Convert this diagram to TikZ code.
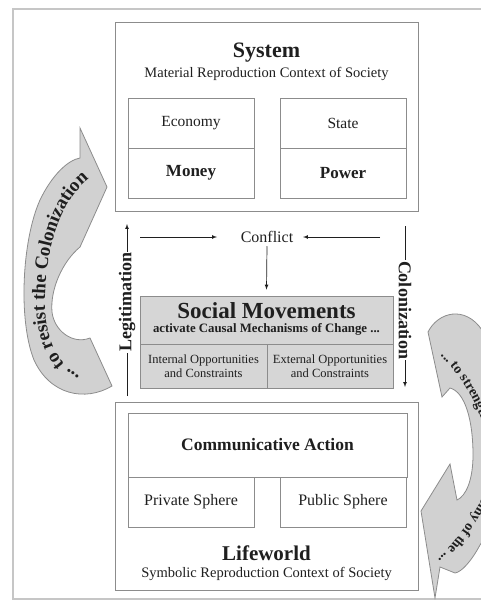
\documentclass[tikz,border=0pt]{standalone}
\usepackage{fontspec}
\setmainfont{Liberation Serif}
\usetikzlibrary{arrows, decorations.text}
\definecolor{boxline}{gray}{0.55}
\definecolor{bandfill}{gray}{0.82}
\definecolor{smfill}{gray}{0.84}
\definecolor{ink}{gray}{0.12}
\tikzstyle{frame} = [draw=gray!45, line width=1.2pt]
\tikzstyle{bigbox} = [rectangle, draw=boxline, line width=0.8pt, minimum width=303pt, minimum height=189pt]
\tikzstyle{cell} = [rectangle, draw=boxline, line width=0.8pt, minimum width=126pt, minimum height=50pt, text=ink, inner sep=0pt]
\tikzstyle{smcell} = [rectangle, draw=boxline, line width=0.8pt, fill=smfill, text=ink, inner sep=0pt, align=center, font=\fontsize{12.5}{13.5}\selectfont]
\tikzstyle{title} = [text=ink, font=\bfseries\fontsize{22}{22}\selectfont]
\tikzstyle{subtitle} = [text=ink, font=\fontsize{14.5}{15}\selectfont]
\tikzstyle{sidelabel} = [text=ink, fill=white, inner sep=1pt, font=\bfseries\fontsize{18}{18}\selectfont]
\tikzstyle{arrow} = [line width=0.7pt, ->, >=latex, draw=ink]
\tikzstyle{band} = [draw=boxline, line width=0.8pt, fill=bandfill]

\begin{document}
\begin{tikzpicture}[x=1pt, y=-1pt]
\useasboundingbox (0,0) rectangle (481,600);
\clip (0,0) rectangle (481,600);
\draw [frame] (13,9) rectangle (500,599);

% system
\node (system) [bigbox] at (266.5,117) {};
\node (systitle) [title] at (266.5,53) {System};
\node (syssub) [subtitle] at (266.5,74) {Material Reproduction Context of Society};
\node (economy) [cell, font=\fontsize{15.5}{16}\selectfont] at (191,123) {Economy};
\node (money) [cell, font=\bfseries\fontsize{17}{17}\selectfont] at (191,173) {Money};
\node (state) [cell, font=\fontsize{15.5}{16}\selectfont] at (343,123) {State};
\node (power) [cell, font=\bfseries\fontsize{17}{17}\selectfont] at (343,173) {Power};

% social movements
\node (conflict) [text=ink, font=\fontsize{16}{16}\selectfont] at (267,237) {Conflict};
\coordinate (confL) at (140,237);
\coordinate (confLend) at (217,237);
\coordinate (confR) at (380,237);
\coordinate (confRend) at (303,237);
\node (social) [smcell, minimum width=253pt, minimum height=48pt] at (266.5,320) {};
\node (smtitle) [text=ink, font=\bfseries\fontsize{23}{23}\selectfont] at (266.5,311) {Social Movements};
\node (smsub) [text=ink, font=\bfseries\fontsize{12.8}{13}\selectfont] at (266.5,329.5) {activate Causal Mechanisms of Change ...};
\node (internal) [smcell, minimum width=127pt, minimum height=44pt] at (203.5,366) {Internal Opportunities\\and Constraints};
\node (external) [smcell, minimum width=126pt, minimum height=44pt] at (330,366) {External Opportunities\\and Constraints};

\coordinate (legbot) at (127,396);
\coordinate (legtop) at (127,224);
\coordinate (coltop) at (405,226);
\coordinate (colbot) at (405,387);

% lifeworld
\node (lifeworld) [bigbox, minimum height=188pt] at (266.5,496) {};
\node (comm) [cell, minimum width=279pt, minimum height=64pt, font=\bfseries\fontsize{17.5}{18}\selectfont] at (267.5,445) {Communicative Action};
\node (private) [cell, font=\fontsize{16}{16}\selectfont] at (191,502) {Private Sphere};
\node (public) [cell, font=\fontsize{16}{16}\selectfont] at (343,502) {Public Sphere};
\node (lwtitle) [title, font=\bfseries\fontsize{21}{21}\selectfont] at (266.5,553) {Lifeworld};
\node (lwsub) [subtitle] at (266.5,574) {Symbolic Reproduction Context of Society};

\draw [arrow] (confL) -- (confLend);
\draw [arrow] (confR) -- (confRend);
\draw [arrow] (conflict.south) -- ([yshift=6pt]social.north);
\draw [arrow] (legbot) -- (legtop);
\draw [arrow] (coltop) -- (colbot);
\node (legit) [sidelabel, rotate=90] at (127,302) {Legitimation};
\node (colon) [sidelabel, rotate=-90] at (405,310) {Colonization};

% curved arrows
\draw [band] (80,128) -- (107,187) -- (80,247)
  .. controls (62,262) and (50,290) .. (52,312)
  .. controls (54,330) and (72,345) .. (90,338)
  -- (112,386)
  .. controls (85,402) and (50,395) .. (34,360)
  .. controls (18,320) and (22,240) .. (40,200)
  .. controls (52,175) and (68,160) .. (80,158) -- cycle;
\path [decorate, decoration={text along path, text color=ink, text align=center,
  text={|\bfseries\fontsize{19}{19}\selectfont|... to resist the Colonization}}]
  (96,382) .. controls (60,375) and (44,340) .. (45,300)
  .. controls (46,230) and (70,185) .. (104,170);

\draw [band] (442,397) -- (428,332)
  .. controls (438,312) and (465,305) .. (482,330)
  .. controls (510,370) and (512,500) .. (480,545)
  .. controls (472,560) and (462,572) .. (455,573)
  -- (440,567) -- (435,598) -- (421,511) -- (450,464) -- (457,500)
  .. controls (466,496) and (473,480) .. (473,455)
  .. controls (473,420) and (465,392) .. (450,388) -- cycle;
\path [decorate, decoration={text along path, text color=ink, text align=center,
  text={|\bfseries\fontsize{14}{14}\selectfont|... to strengthen the Autonomy of the ...}}]
  (434,350) .. controls (482,392) and (505,462) .. (476,510)
  .. controls (464,530) and (450,548) .. (432,566);

\end{tikzpicture}
\end{document}
